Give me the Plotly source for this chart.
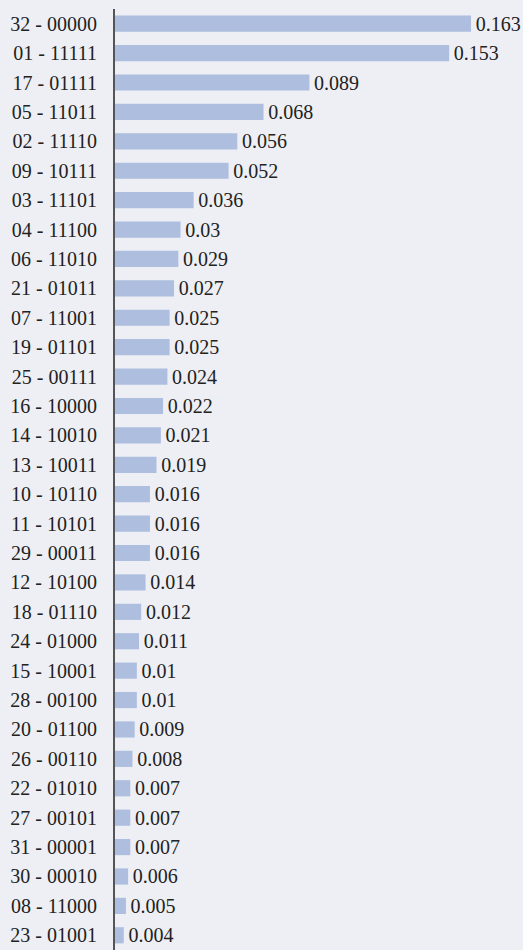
import plotly.graph_objects as go

categories = ["32 - 00000", "01 - 11111", "17 - 01111", "05 - 11011", "02 - 11110", "09 - 10111",
              "03 - 11101", "04 - 11100", "06 - 11010", "21 - 01011", "07 - 11001", "19 - 01101",
              "25 - 00111", "16 - 10000", "14 - 10010", "13 - 10011", "10 - 10110", "11 - 10101",
              "29 - 00011", "12 - 10100", "18 - 01110", "24 - 01000", "15 - 10001", "28 - 00100",
              "20 - 01100", "26 - 00110", "22 - 01010", "27 - 00101", "31 - 00001", "30 - 00010",
              "08 - 11000", "23 - 01001"]
values = [0.163, 0.153, 0.089, 0.068, 0.056, 0.052, 0.036, 0.03, 0.029, 0.027, 0.025, 0.025,
          0.024, 0.022, 0.021, 0.019, 0.016, 0.016, 0.016, 0.014, 0.012, 0.011, 0.01, 0.01,
          0.009, 0.008, 0.007, 0.007, 0.007, 0.006, 0.005, 0.004]

font_family = "Liberation Serif"
bg = "#eeeff4"

fig = go.Figure(go.Bar(
    x=values, y=categories, orientation="h",
    marker=dict(color="#adbedf", line=dict(width=0)),
    text=["\u200a" + str(v) for v in values], textposition="outside",
    constraintext="none",
    textfont=dict(family=font_family, size=20, color="#222222"),
    cliponaxis=False,
    hoverinfo="skip",
))

fig.update_layout(
    width=523, height=950,
    margin=dict(l=115, r=0, t=9, b=0),
    paper_bgcolor=bg, plot_bgcolor=bg,
    bargap=0.45,
    showlegend=False,
    font=dict(family=font_family, size=20, color="#222222"),
)
fig.update_xaxes(range=[0, 0.1868], visible=False, showgrid=False, zeroline=False)
fig.update_yaxes(autorange="reversed", showline=True, linecolor="#555555", linewidth=2,
                 showgrid=False, ticks="", ticklabelstandoff=12,
                 tickfont=dict(family=font_family, size=20, color="#222222"))

fig.write_html("out.html",
               config={"displayModeBar": False},
               post_script="document.body.style.margin='0';document.body.style.background='%s';" % bg)
